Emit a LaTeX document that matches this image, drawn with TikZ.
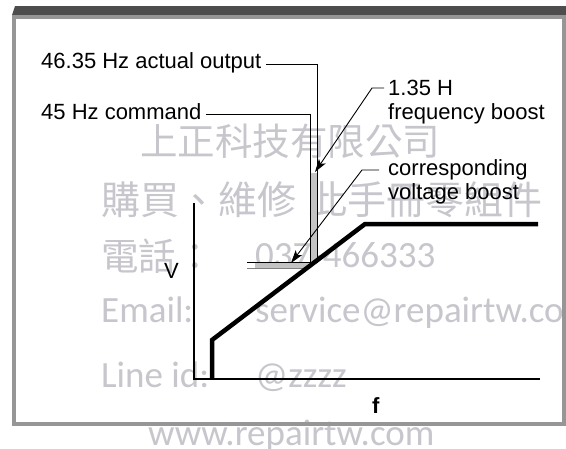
\documentclass[tikz,border=0pt]{standalone}
\usepackage{fontspec}
\setmainfont{Liberation Sans}
\newfontfamily\wmcjk{Noto Sans CJK TC}
\newfontfamily\wmlat{Carlito}
\usetikzlibrary{arrows.meta}
\definecolor{wm}{RGB}{198,198,204}
\definecolor{framegray}{RGB}{150,150,150}
\definecolor{bargray}{RGB}{77,77,77}
\definecolor{bandgray}{RGB}{195,195,195}
\begin{document}
\begin{tikzpicture}[x=1pt,y=-1pt,
  lbl/.style={font=\fontsize{22}{24}\selectfont, inner sep=0pt, anchor=base west},
  wmc/.style={font=\wmcjk\fontsize{37.5}{40}\selectfont, text=wm, inner sep=0pt, anchor=base west},
  wml/.style={font=\wmlat\fontsize{37}{40}\selectfont, text=wm, inner sep=0pt, anchor=base west},
  leader/.style={line width=0.9pt},
  arrowed/.style={leader, -{Stealth[length=13pt,width=8pt,inset=3pt]}},
  axisline/.style={line width=2pt},
  vfline/.style={line width=4.5pt, line join=miter}
]
\useasboundingbox (0,0) rectangle (566,448);
\clip (0,0) rectangle (566,448);
\fill[white] (0,0) rectangle (566,448);
% title bar
\fill[bargray] (12,15) -- (15,6) -- (566,6) -- (566,15) -- cycle;
% watermark
\node[wmc] (w1) at (140,155) {上正科技有限公司};
\node[wmc, font=\wmcjk\fontsize{39}{40}\selectfont] (w2) at (101,214) {購買、維修\hspace{12pt}此手冊零組件};
\node[wmc] (w3) at (101,270) {電話：};
\node[wml] (w3b) at (255,267) {037-466333};
\node[wml] (w4) at (101,322) {Email:};
\node[wml] (w4b) at (255,322) {service@repairtw.com};
\node[wml] (w5) at (101,387) {Line id:};
\node[wml] (w5b) at (255,387) {@zzzz};
\node[wml] (w6) at (148,445) {www.repairtw.com};
% frame
\draw[framegray, line width=4pt] (14,17) rectangle (564,424);
% boost bands
\fill[bandgray] (311,173) rectangle (317,263);
\fill[bandgray] (255,262) rectangle (310,268);
% labels
\node[lbl] (l4635) at (41,68) {46.35 Hz actual output};
\node[lbl] (l45) at (41,119) {45 Hz command};
\node[lbl] (l135) at (388,95) {1.35 H};
\node[lbl] (lfb) at (388,119) {frequency boost};
\node[lbl] (lcor) at (388,175) {corresponding};
\node[lbl] (lvb) at (388,199) {voltage boost};
\node[lbl] (lV) at (164,278) {V};
\node[lbl, font=\bfseries\fontsize{22}{24}\selectfont] (lf) at (372,413) {f};
% coordinates
\coordinate (a1s) at (266,64);
\coordinate (a1c) at (317,64);
\coordinate (a1e) at (317,263);
\coordinate (a2s) at (206,114);
\coordinate (a2c) at (310,114);
\coordinate (a2e) at (310,268);
\coordinate (h1s) at (247,262);
\coordinate (h1e) at (317,262);
\coordinate (h2s) at (247,268);
\coordinate (h2e) at (310,268);
\coordinate (f1s) at (384,88);
\coordinate (f1c) at (372,88);
\coordinate (f1t) at (315,172);
\coordinate (v1s) at (379,170);
\coordinate (v1c) at (362,170);
\coordinate (v1t) at (291,263);
\coordinate (vtop) at (194,203);
\coordinate (O) at (194,379);
\coordinate (fend) at (540,379);
\coordinate (k0) at (212,379);
\coordinate (k1) at (212,340);
\coordinate (k2) at (365,224);
\coordinate (k3) at (538,224);
% leaders
\draw[leader] (a1s) -- (a1c) -- (a1e);
\draw[leader] (a2s) -- (a2c) -- (a2e);
\draw[leader] (h1s) -- (h1e);
\draw[leader, gray] (h2s) -- (h2e);
\draw[arrowed] (f1s) -- (f1c) -- (f1t);
\draw[arrowed] (v1s) -- (v1c) -- (v1t);
% axes
\draw[axisline] (vtop) -- (O) -- (fend);
% V/f curve
\draw[vfline] (k0) -- (k1) -- (k2) -- (k3);
\end{tikzpicture}
\end{document}
